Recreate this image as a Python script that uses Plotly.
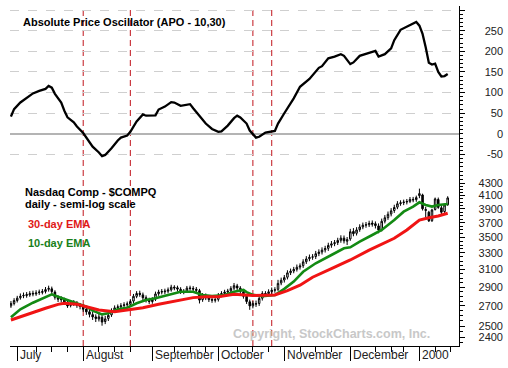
import pandas as pd
import plotly.graph_objects as go

W, H = 508, 368

# ---------------- trading calendar (sessions) ----------------
HOLIDAYS = ["1999-07-05", "1999-09-06", "1999-11-25", "1999-12-24", "2000-01-17"]
CAL = [d for d in pd.bdate_range("1999-06-29", "2000-01-20")
       if d.strftime("%Y-%m-%d") not in HOLIDAYS]
SESSION = {d.strftime("%Y-%m-%d"): i for i, d in enumerate(CAL)}

# ---------------- data ----------------
first_date = "1999-06-29"
n_bars = 140
open_ = [2700, 2725, 2755, 2785, 2805, 2808, 2815, 2832, 2826, 2840, 2842, 2852, 2875, 2880, 2845, 2785, 2775, 2760, 2735, 2705,
         2725, 2728, 2705, 2690, 2668, 2640, 2612, 2590, 2570, 2585, 2545, 2575, 2610, 2655, 2682, 2690, 2705, 2712, 2718, 2750,
         2800, 2832, 2815, 2785, 2760, 2745, 2770, 2828, 2845, 2848, 2855, 2870, 2898, 2892, 2875, 2848, 2855, 2890, 2885, 2875,
         2860, 2765, 2808, 2785, 2765, 2758, 2768, 2812, 2830, 2845, 2858, 2888, 2912, 2888, 2848, 2800, 2742, 2700, 2722, 2725,
         2780, 2830, 2828, 2850, 2865, 2875, 2945, 2978, 3010, 3062, 3082, 3102, 3128, 3145, 3192, 3228, 3248, 3255, 3292, 3312,
         3338, 3358, 3398, 3418, 3432, 3462, 3490, 3450, 3480, 3580, 3555, 3605, 3642, 3668, 3672, 3695, 3685, 3655, 3605, 3722,
         3772, 3825, 3875, 3925, 3978, 3992, 4002, 4012, 4042, 4038, 4100, 4110, 3890, 3850, 3730, 3890, 4040, 3915, 3860, 3960]
high = [2750, 2780, 2805, 2830, 2840, 2845, 2855, 2860, 2865, 2872, 2878, 2900, 2915, 2905, 2865, 2810, 2800, 2785, 2760, 2755,
        2760, 2750, 2730, 2715, 2690, 2665, 2640, 2615, 2620, 2605, 2600, 2630, 2675, 2705, 2715, 2728, 2738, 2745, 2770, 2825,
        2855, 2860, 2840, 2810, 2785, 2790, 2850, 2870, 2878, 2882, 2895, 2925, 2920, 2915, 2898, 2878, 2912, 2915, 2910, 2900,
        2880, 2835, 2830, 2810, 2790, 2795, 2835, 2855, 2870, 2880, 2910, 2945, 2935, 2910, 2870, 2820, 2765, 2750, 2755, 2805,
        2855, 2855, 2875, 2895, 2898, 2980, 3005, 3035, 3090, 3110, 3130, 3158, 3172, 3222, 3260, 3280, 3285, 3325, 3345, 3370,
        3390, 3430, 3452, 3465, 3495, 3528, 3525, 3505, 3615, 3625, 3638, 3678, 3702, 3710, 3728, 3732, 3718, 3690, 3758, 3808,
        3860, 3910, 3960, 4015, 4028, 4038, 4048, 4078, 4080, 4100, 4210, 4130, 3930, 3870, 3900, 4070, 4070, 3955, 3975, 4090]
low = [2680, 2705, 2735, 2765, 2780, 2785, 2795, 2800, 2805, 2815, 2820, 2830, 2850, 2825, 2765, 2740, 2735, 2715, 2680, 2685,
       2700, 2680, 2665, 2640, 2610, 2585, 2560, 2540, 2545, 2505, 2520, 2550, 2590, 2630, 2660, 2665, 2680, 2690, 2695, 2725,
       2780, 2795, 2760, 2735, 2720, 2722, 2750, 2805, 2820, 2822, 2832, 2850, 2865, 2850, 2825, 2822, 2835, 2860, 2852, 2840,
       2725, 2742, 2760, 2740, 2732, 2735, 2745, 2790, 2808, 2822, 2835, 2865, 2865, 2825, 2775, 2720, 2660, 2675, 2690, 2700,
       2755, 2795, 2805, 2825, 2838, 2855, 2920, 2950, 2985, 3035, 3055, 3075, 3098, 3118, 3165, 3198, 3215, 3225, 3260, 3280,
       3305, 3325, 3365, 3385, 3400, 3430, 3420, 3400, 3455, 3515, 3525, 3575, 3610, 3630, 3640, 3645, 3620, 3555, 3580, 3690,
       3740, 3790, 3840, 3895, 3945, 3955, 3965, 3985, 3998, 4005, 4060, 3875, 3740, 3710, 3710, 3875, 3900, 3810, 3840, 3945]
close = [2725, 2755, 2780, 2800, 2810, 2818, 2828, 2826, 2835, 2845, 2850, 2872, 2885, 2850, 2790, 2770, 2765, 2740, 2700, 2725,
         2730, 2705, 2695, 2665, 2640, 2615, 2590, 2575, 2590, 2540, 2570, 2605, 2650, 2680, 2690, 2700, 2710, 2720, 2745, 2800,
         2830, 2820, 2785, 2760, 2745, 2765, 2825, 2845, 2850, 2855, 2868, 2898, 2890, 2878, 2850, 2852, 2888, 2885, 2878, 2865,
         2760, 2810, 2785, 2765, 2760, 2765, 2810, 2830, 2845, 2855, 2885, 2915, 2890, 2850, 2800, 2745, 2700, 2725, 2720, 2778,
         2830, 2825, 2848, 2865, 2870, 2940, 2975, 3005, 3060, 3080, 3100, 3125, 3140, 3190, 3225, 3245, 3250, 3290, 3310, 3335,
         3355, 3395, 3415, 3430, 3460, 3490, 3455, 3470, 3575, 3550, 3600, 3640, 3665, 3670, 3690, 3680, 3660, 3600, 3720, 3770,
         3820, 3870, 3920, 3975, 3990, 4000, 4010, 4040, 4035, 4069, 4131, 3901, 3877, 3727, 3882, 4049, 3921, 3850, 3957, 4064]

# 30-day EMA (session number, value)
ema30_session = [0, 3, 7, 11, 15, 17, 21, 24, 28, 33, 38, 42, 47, 53, 58, 62, 66, 71, 74, 77, 84, 88, 92, 96,
                 102, 108, 114, 122, 126, 130, 133, 136, 139]
ema30_value = [2560, 2592, 2636, 2676, 2716, 2727, 2716, 2692, 2658, 2641, 2665, 2682, 2716, 2751, 2786, 2796, 2796,
               2821, 2818, 2808, 2814, 2860, 2920, 3010, 3110, 3213, 3336, 3488, 3600, 3738, 3771, 3796, 3835]
# 10-day EMA
ema10_session = [0, 3, 7, 10, 13, 15, 18, 21, 24, 26, 29, 31, 34, 37, 40, 43, 46, 50, 54, 58, 61, 64, 68, 71,
                 74, 75, 77, 80, 84, 87, 90, 93, 97, 102, 106, 108, 111, 115, 118, 122, 125, 128, 130, 132,
                 134, 136, 139]
ema10_value = [2586, 2665, 2733, 2779, 2821, 2796, 2761, 2727, 2692, 2652, 2615, 2625, 2665, 2682, 2727, 2761, 2779,
               2814, 2849, 2849, 2814, 2803, 2814, 2849, 2868, 2845, 2815, 2800, 2814, 2880, 2960, 3073, 3173, 3274,
               3358, 3370, 3444, 3532, 3599, 3738, 3858, 3933, 3997, 3957, 3933, 3957, 3972]
# Absolute Price Oscillator (10,30)
apo_session = [0, 1, 3, 5, 7, 9, 11, 12, 13, 14, 16, 17, 18, 20, 21, 23, 25, 26, 28, 29, 30, 32, 34, 35, 37, 38,
               40, 42, 43, 46, 47, 49, 51, 52, 54, 56, 57, 58, 60, 62, 64, 66, 67, 69, 71, 72, 73, 75, 76, 78,
               79, 81, 84, 85, 87, 90, 92, 95, 98, 99, 101, 103, 105, 106, 108, 109, 111, 113, 116, 117, 119,
               121, 122, 124, 127, 128, 129, 130, 131, 132, 133, 134, 135, 136, 137, 138, 139]
apo_value = [42, 60, 76, 86, 98, 104, 109, 116, 112, 97, 76, 56, 40, 28, 18, 2, -20, -31, -45, -54, -51, -35, -16,
             -9, -4, 5, 30, 47, 44, 45, 59, 66, 77, 76, 68, 70, 72, 62, 42, 25, 12, 5, 6, 20, 38, 44, 40, 25, 8,
             -9, -7, 3, 7, 25, 50, 86, 114, 133, 160, 164, 183, 187, 193, 189, 169, 173, 189, 194, 201, 187, 193,
             207, 227, 252, 264, 266, 271, 262, 242, 210, 172, 168, 170, 150, 139, 140, 145]

signal_dates = ["1999-08-02", "1999-08-23", "1999-10-18", "1999-10-26"]
month_labels = ["July", "August", "September", "October", "November", "December", "2000"]
apo_ticks = [250, 200, 150, 100, 50, 0, -50]
price_ticks = [4300, 4100, 3900, 3700, 3500, 3300, 3100, 2900, 2700, 2500, 2400]

# ---------------- geometry helpers ----------------
ML, MR, MT, MB = 10, 5, 6, 22
PW, PH = W - ML - MR, H - MT - MB
def px_x(x):
    return (x - ML) / PW
def px_y(y):
    return (H - MB - y) / PH

X_DOMAIN_END = px_x(459)
SPLIT = px_y(179)

s0 = SESSION[first_date]
bar_x = list(range(s0, s0 + n_bars))

# month starts & weekly ticks from the calendar
month_start, week_start = [], []
for i, d in enumerate(CAL):
    if i == 0:
        continue
    p = CAL[i - 1]
    if d.month != p.month:
        month_start.append(i)
    if d.weekday() < p.weekday():
        week_start.append(i)
minor_x = [w for w in week_start if all(abs(w - m) > 3 for m in month_start)]

FONT = "Liberation Sans, Arial, sans-serif"
fig = go.Figure()

fig.add_trace(go.Candlestick(
    x=bar_x, open=open_, high=high, low=low, close=close,
    xaxis="x", yaxis="y2", showlegend=False, hoverinfo="skip", whiskerwidth=0,
    increasing=dict(line=dict(color="black", width=1), fillcolor="white"),
    decreasing=dict(line=dict(color="black", width=1), fillcolor="black"),
))
fig.add_trace(go.Scatter(x=ema10_session, y=ema10_value, mode="lines", xaxis="x", yaxis="y2",
                         line=dict(color="#138a13", width=2.6), showlegend=False, hoverinfo="skip"))
fig.add_trace(go.Scatter(x=ema30_session, y=ema30_value, mode="lines", xaxis="x", yaxis="y2",
                         line=dict(color="#f01414", width=3), showlegend=False, hoverinfo="skip"))
fig.add_trace(go.Scatter(x=apo_session, y=apo_value, mode="lines", xaxis="x", yaxis="y",
                         line=dict(color="black", width=2.3), showlegend=False, hoverinfo="skip"))
# carriers for label-only axes
fig.add_trace(go.Scatter(x=[None], y=[None], xaxis="x", yaxis="y3", showlegend=False))
fig.add_trace(go.Scatter(x=[None], y=[None], xaxis="x", yaxis="y4", showlegend=False))

APO_RANGE = [-109.3, 309.7]
PRICE_RANGE = [3.3654, 3.6401]

axis_font = dict(family=FONT, size=11, color="#222")

fig.update_layout(
    width=W, height=H, margin=dict(l=ML, r=MR, t=MT, b=MB),
    paper_bgcolor="white", plot_bgcolor="white", showlegend=False,
    xaxis=dict(domain=[0, X_DOMAIN_END], range=[-0.3, 142.6], anchor="y2",
               showline=True, linecolor="black", linewidth=1, showgrid=False, zeroline=False,
               tickmode="array", tickvals=month_start, ticktext=[""] * len(month_start),
               ticks="outside", ticklen=14, tickcolor="black", tickwidth=1,
               minor=dict(tickmode="array", tickvals=minor_x, ticks="outside", ticklen=5,
                          tickcolor="black", tickwidth=1, showgrid=False),
               rangeslider=dict(visible=False), fixedrange=True),
    yaxis=dict(domain=[SPLIT, 1], range=APO_RANGE, side="right", anchor="x",
               showline=True, linecolor="black", linewidth=1,
               tickmode="array", tickvals=[-50, 50, 100, 150, 200, 250, 300],
               showticklabels=False, ticks="outside", ticklen=5, tickcolor="black",
               showgrid=True, gridcolor="#cfcfcf", griddash="dash", gridwidth=1,
               zeroline=True, zerolinecolor="#b4b4b4", zerolinewidth=2,
               minor=dict(dtick=10, tick0=0, ticks="outside", ticklen=3, tickcolor="black", showgrid=False)),
    yaxis2=dict(domain=[0, SPLIT], type="log", range=PRICE_RANGE, side="right", anchor="x",
                showline=True, linecolor="black", linewidth=1, showgrid=False, zeroline=False,
                tickmode="array", tickvals=price_ticks, showticklabels=False,
                ticks="outside", ticklen=5, tickcolor="black",
                minor=dict(tickmode="array", tickvals=list(range(2350, 4400, 50)), ticks="outside",
                           ticklen=3, tickcolor="black", showgrid=False)),
    yaxis3=dict(overlaying="y", range=APO_RANGE, side="left", anchor="free", position=1,
                showline=False, showgrid=False, zeroline=False, ticks="",
                tickmode="array", tickvals=apo_ticks, ticktext=[str(v) for v in apo_ticks],
                tickfont=axis_font),
    yaxis4=dict(overlaying="y2", type="log", range=PRICE_RANGE, side="left", anchor="free", position=1,
                showline=False, showgrid=False, zeroline=False, ticks="",
                tickmode="array", tickvals=price_ticks, ticktext=[str(v) for v in price_ticks],
                tickfont=axis_font),
)

# crossover signal lines
for d in signal_dates:
    fig.add_shape(type="line", xref="x", yref="paper", x0=SESSION[d], x1=SESSION[d], y0=0, y1=1,
                  line=dict(color="#c0141c", width=1, dash="6px,4px"), layer="between")

# month labels
for m, lab in zip(month_start, month_labels):
    fig.add_annotation(xref="x", yref="paper", x=m, y=px_y(355), text=lab, showarrow=False,
                       xanchor="left", yanchor="middle", xshift=1,
                       font=dict(family=FONT, size=12, color="#222"))

def note(text, x, y, color="black", size=11):
    fig.add_annotation(xref="paper", yref="paper", x=px_x(x), y=px_y(y), text=text,
                       showarrow=False, xanchor="left", yanchor="middle",
                       font=dict(family=FONT, size=size, color=color))

note("<b>Absolute Price Oscillator (APO - 10,30)</b>", 21, 22)
note("<b>Nasdaq Comp - $COMPQ</b>", 23, 192)
note("<b>daily - semi-log scale</b>", 23, 204)
note("<b>30-day EMA</b>", 26, 224, color="#e01818")
note("<b>10-day EMA</b>", 26, 243, color="#18801a")
note("<b>Copyright, StockCharts.com, Inc.</b>", 231, 334, color="#c8c8c8", size=12.5)

fig.write_html("out.html", config={"displayModeBar": False, "staticPlot": True},
               post_script="document.body.style.margin='0px';")
